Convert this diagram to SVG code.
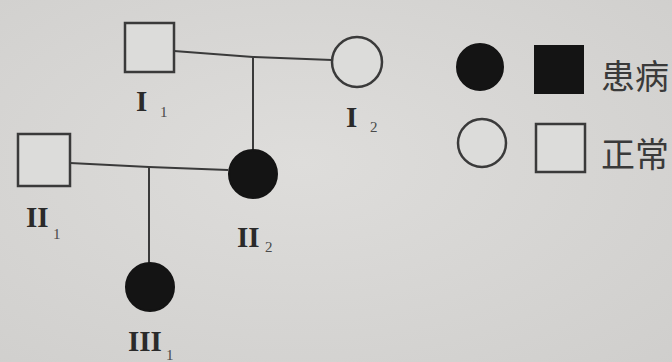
<svg xmlns="http://www.w3.org/2000/svg" width="672" height="362" viewBox="0 0 672 362">
<defs>
<style>
.ln{stroke:#3a3a3a;stroke-width:2;fill:none}
.open{fill:#dcdcda;stroke:#3a3a3a;stroke-width:2.5}
.fill{fill:#141414;stroke:#141414;stroke-width:2}
.num{font-family:"Liberation Serif",serif;font-size:29px;font-weight:bold;fill:#2a2a2a}
.sub{font-family:"Liberation Serif",serif;font-size:15px;fill:#4a4a4a}
.cn{font-family:"Liberation Serif","Noto Sans CJK SC",serif;font-size:34px;fill:#3a3a3a}
</style>
<radialGradient id="bg" cx="0.45" cy="0.45" r="0.8">
<stop offset="0" stop-color="#dedddb"/>
<stop offset="1" stop-color="#cfcecc"/>
</radialGradient>
</defs>
<rect width="672" height="362" fill="url(#bg)"/>
<g id="connectors">
<polyline class="ln" points="174,51 253,57 332,60"/>
<line class="ln" x1="253" y1="57" x2="253" y2="150"/>
<polyline class="ln" points="70,163 149,167 228,170"/>
<line class="ln" x1="149" y1="167" x2="149" y2="263"/>
</g>
<g id="I1">
<rect class="open" x="125" y="23" width="49" height="49"/>
<text class="num" x="136" y="111">I</text><text class="sub" x="160" y="117">1</text>
</g>
<g id="I2">
<circle class="open" cx="357" cy="62" r="25"/>
<text class="num" x="346" y="127">I</text><text class="sub" x="370" y="132">2</text>
</g>
<g id="II1">
<rect class="open" x="18" y="134" width="52" height="52"/>
<text class="num" x="26" y="227">II</text><text class="sub" x="53" y="239">1</text>
</g>
<g id="II2">
<circle class="fill" cx="253" cy="174" r="24"/>
<text class="num" x="237" y="247">II</text><text class="sub" x="265" y="252">2</text>
</g>
<g id="III1">
<circle class="fill" cx="150" cy="287" r="24"/>
<text class="num" x="128" y="351">III</text><text class="sub" x="166" y="360">1</text>
</g>
<g id="legend">
<circle class="fill" cx="480" cy="67" r="23"/>
<rect class="fill" x="535" y="46" width="48" height="47"/>
<text class="cn" x="601" y="89">患病</text>
<circle class="open" cx="482" cy="143" r="24"/>
<rect class="open" x="536" y="124" width="49" height="48"/>
<text class="cn" x="601" y="167">正常</text>
</g>
</svg>
